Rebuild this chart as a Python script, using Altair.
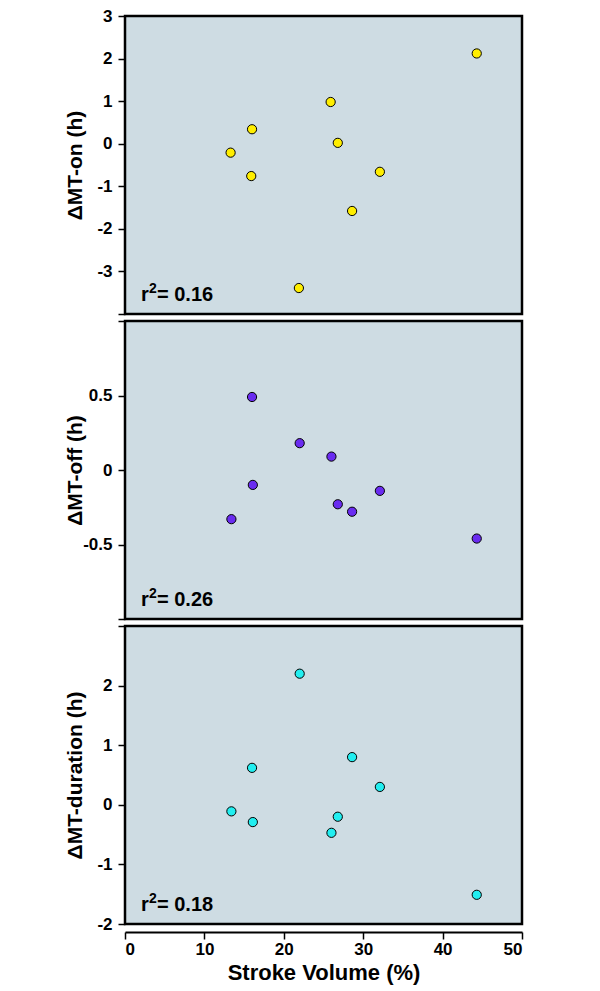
import altair as alt
import pandas as pd

# Data
on_x = [13.3, 16.0, 15.9, 21.9, 25.9, 26.8, 28.6, 32.1, 44.3]
on_y = [-0.21, 0.34, -0.76, -3.39, 0.98, 0.02, -1.58, -0.66, 2.12]

off_x = [13.4, 16.0, 16.1, 22.0, 26.0, 26.8, 28.6, 32.1, 44.3]
off_y = [-0.33, 0.49, -0.10, 0.18, 0.09, -0.23, -0.28, -0.14, -0.46]

dur_x = [13.4, 16.0, 16.1, 22.0, 26.0, 26.8, 28.6, 32.1, 44.3]
dur_y = [-0.11, 0.62, -0.29, 2.20, -0.47, -0.20, 0.80, 0.30, -1.51]

r2_values = ["= 0.16", "= 0.26", "= 0.18"]
y_titles = ["\u0394MT-on (h)", "\u0394MT-off (h)", "\u0394MT-duration (h)"]
colors = ["#ffee00", "#6a2cf0", "#22eef0"]
y_domains = [[-4, 3], [-1, 1], [-2, 3]]
y_ticks = [[-4, -3, -2, -1, 0, 1, 2, 3], [-1, -0.5, 0, 0.5, 1], [-2, -1, 0, 1, 2, 3]]
y_hidden = [[-4], [-1, 1], [3]]
x_ticks = [0, 10, 20, 30, 40, 50]

FONT = "Liberation Sans"
W, H = 397, 298


def panel(xs, ys, idx, show_x):
    df = pd.DataFrame({"x": xs, "y": ys})
    hidden = y_hidden[idx]
    cond = " || ".join(f"datum.value == {v}" for v in hidden)
    yaxis = alt.Axis(
        values=y_ticks[idx],
        labelExpr=f"({cond}) ? '' : '' + datum.value",
        labelFontSize={"condition": {"test": cond, "value": 0}, "value": 17},
        labelPadding=6,
        title=y_titles[idx],
        titleFontSize=21,
        titleX=-40,
        titleY=H / 2,
        domain=False,
        grid=False,
    )
    if show_x:
        xaxis = alt.Axis(
            values=x_ticks,
            format="d",
            title="Stroke Volume (%)",
            titleFontSize=22,
            offset=8,
            grid=False,
            domain=True,
            domainWidth=2,
            domainColor="black",
            labelPadding=2,
            titlePadding=5,
        )
    else:
        xaxis = None
    pts = alt.Chart(df).mark_circle(
        size=85, color=colors[idx], opacity=1, stroke="black", strokeWidth=1
    ).encode(
        x=alt.X("x:Q", scale=alt.Scale(domain=[0, 50], nice=False, zero=False), axis=xaxis),
        y=alt.Y("y:Q", scale=alt.Scale(domain=y_domains[idx], nice=False, zero=False), axis=yaxis),
    )
    txt = dict(font=FONT, fontWeight="bold", align="left", baseline="alphabetic", color="black")
    one = pd.DataFrame({"t": [r2_values[idx]]})
    lab_r = alt.Chart(one).mark_text(fontSize=20, text="r", **txt).encode(
        x=alt.value(16), y=alt.value(H - 13))
    lab_2 = alt.Chart(one).mark_text(fontSize=14, text="2", **txt).encode(
        x=alt.value(24), y=alt.value(H - 21))
    lab_v = alt.Chart(one).mark_text(fontSize=20, **txt).encode(
        x=alt.value(32), y=alt.value(H - 13), text="t:N")
    return alt.layer(pts, lab_r, lab_2, lab_v).properties(width=W, height=H)


chart = alt.vconcat(
    panel(on_x, on_y, 0, False),
    panel(off_x, off_y, 1, False),
    panel(dur_x, dur_y, 2, True),
    spacing=3,
).properties(
    padding={"left": 54, "top": -3, "right": 5, "bottom": 0}
).configure_view(
    fill="#cedce3", stroke="black", strokeWidth=2.5
).configure_axis(
    labelFont=FONT,
    labelFontSize=17,
    labelFontWeight="bold",
    labelColor="black",
    tickColor="black",
    tickWidth=1.5,
    tickSize=7,
    titleFont=FONT,
    titleFontSize=20,
    titleFontWeight="bold",
    titleColor="black",
)

chart.save("out.html", embed_options={"renderer": "svg", "actions": False})
